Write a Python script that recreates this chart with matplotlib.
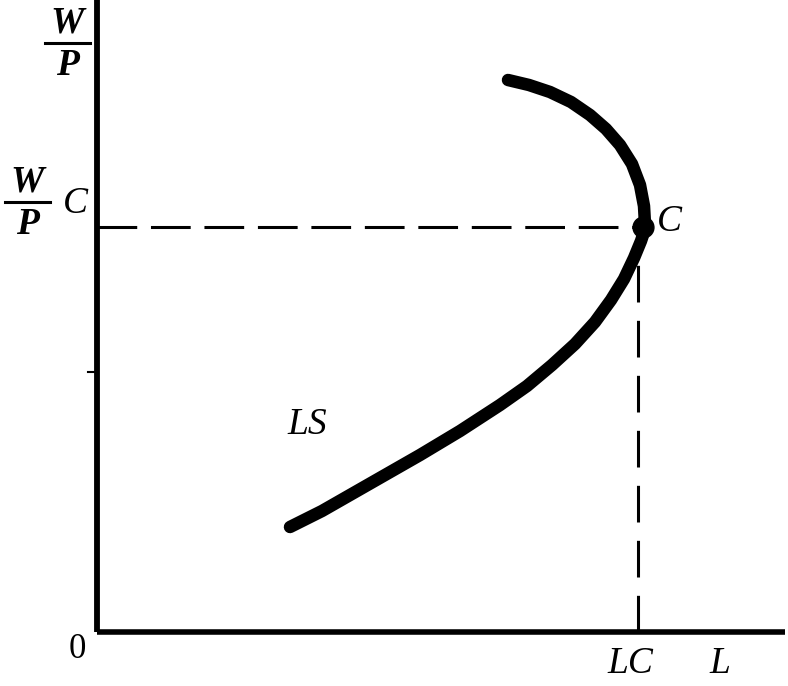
import matplotlib
matplotlib.use('Agg')
import matplotlib.pyplot as plt
import numpy as np

# Backward-bending labour supply curve LS (L, W/P)
ls_L = [1.93, 2.25, 2.53, 2.88, 3.23, 3.63, 4.03, 4.30, 4.55, 4.78, 4.98,
        5.14, 5.27, 5.37, 5.44, 5.47, 5.48, 5.47, 5.43, 5.35, 5.23, 5.09,
        4.93, 4.74, 4.53, 4.32, 4.11]
ls_W = [1.05, 1.21, 1.37, 1.57, 1.77, 2.01, 2.27, 2.46, 2.67, 2.88, 3.10,
        3.32, 3.53, 3.74, 3.91, 4.00, 4.08, 4.26, 4.47, 4.68, 4.87, 5.03,
        5.17, 5.30, 5.40, 5.47, 5.52]

point_L = 5.48   # LC
point_W = 4.05   # (W/P)C
tick_W = 2.60    # small tick on the wage axis

serif = {'family': 'Liberation Serif', 'style': 'italic', 'weight': 'bold'}

fig = plt.figure(figsize=(7.88, 6.86), dpi=100)
ax = fig.add_axes([0, 0, 1, 1])
ax.set_xlim(-0.97, 6.91)
ax.set_ylim(-0.54, 6.32)
ax.axis('off')

# axes
ax.plot([0, 0], [0, 6.32], color='black', lw=4.2, solid_capstyle='butt')
ax.plot([0, 6.88], [0, 0], color='black', lw=4.0, solid_capstyle='butt')
ax.plot([-0.09, 0], [tick_W, tick_W], color='black', lw=1.5)

# dashed guides to point C
ax.plot([0, point_L], [point_W, point_W], color='black', lw=2.2,
        dashes=(13, 4.5))
ax.plot([point_L - 0.07, point_L - 0.07], [0, point_W], color='black',
        lw=2.2, dashes=(12, 6))

# LS curve
ax.plot(ls_L, ls_W, color='black', lw=9, solid_capstyle='round',
        solid_joinstyle='round')
ax.plot([point_L - 0.02], [point_W], 'o', color='black', ms=15)

# labels
def frac(x, y, w=0.45):
    ax.text(x, y + 0.2, 'W', fontsize=27, ha='center', va='center', **serif)
    ax.plot([x - w / 2, x + w / 2], [y, y], color='black', lw=2.2)
    ax.text(x, y - 0.22, 'P', fontsize=27, ha='center', va='center', **serif)

frac(-0.30, 5.89)
frac(-0.70, 4.30)
ax.text(-0.22, 4.28, 'C', fontsize=27, ha='center', va='center',
        family='Liberation Serif', style='italic')
ax.text(5.72, 4.10, 'C', fontsize=27, ha='center', va='center',
        family='Liberation Serif', style='italic')
ax.text(2.10, 2.07, 'LS', fontsize=27, ha='center', va='center',
        family='Liberation Serif', style='italic')
ax.text(-0.20, -0.18, '0', fontsize=25, ha='center', va='center',
        family='Liberation Serif')
ax.text(5.33, -0.32, 'LC', fontsize=27, ha='center', va='center',
        family='Liberation Serif', style='italic')
ax.text(6.23, -0.32, 'L', fontsize=27, ha='center', va='center',
        family='Liberation Serif', style='italic')

fig.savefig('out.png', dpi=100, facecolor='white')
